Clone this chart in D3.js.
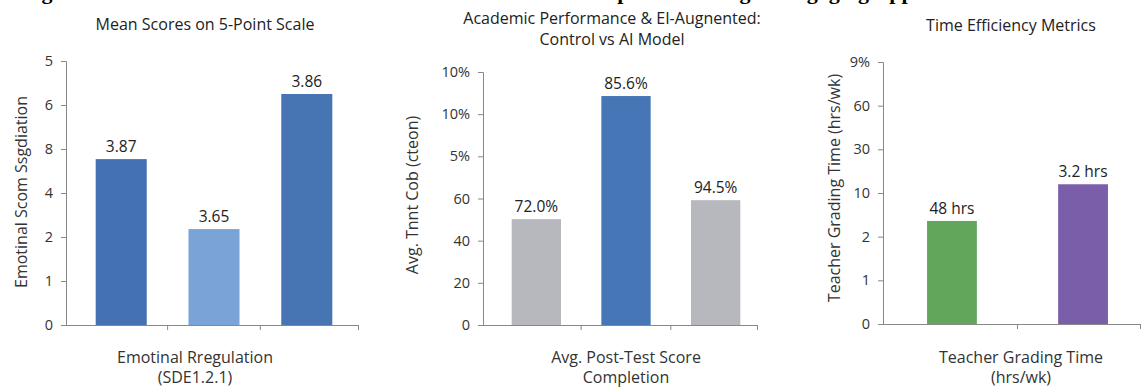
<!DOCTYPE html>
<html>
<head>
<meta charset="utf-8">
<script src="https://cdn.jsdelivr.net/npm/d3@7"></script>
<style>
  body { margin: 0; background: #fff; }
  text { font-family: "Open Sans", sans-serif; fill: #333; }
</style>
</head>
<body>
<div id="chart"></div>
<script>
// chart data
const figTitle = "Figure 4. Results for the AI Model Across Outcomes and the Impact of Pacing & Engaging Approach";

const p1Cats = ["A", "B", "C"];
const p1Ticks = ["0", "1", "2", "4", "8", "6", "5"];
const p1Heights = [3.77, 2.18, 5.25];
const p1Labels = ["3.87", "3.65", "3.86"];
const p1Colors = ["#4471b1", "#7aa4d7", "#4774b2"];

const p2Cats = ["Control", "AI", "EI"];
const p2Ticks = ["0", "20", "40", "60", "5%", "10%", "10%"];
const p2Heights = [2.51, 5.43, 2.96];
const p2Labels = ["72.0%", "85.6%", "94.5%"];
const p2Colors = ["#b6b8bd", "#4676b5", "#b6b8bd"];

const p3Cats = ["Before", "After"];
const p3Ticks = ["0", "1", "2", "10", "30", "60", "9%"];
const p3Heights = [2.36, 3.2];
const p3Labels = ["48 hrs", "3.2 hrs"];
const p3Colors = ["#62a65c", "#7a5ea9"];

const W = 1141, H = 387;
const svg = d3.select("#chart").append("svg")
  .attr("width", W).attr("height", H);

// figure title is cut off at the top, only descenders show
svg.append("text")
  .attr("x", 22).attr("y", -1)
  .style("font-family", "'Liberation Serif', serif")
  .style("font-weight", "bold")
  .style("font-size", "22px")
  .style("fill", "#000")
  .text(figTitle);

function drawPanel(p) {
  const g = svg.append("g");

  const x = d3.scaleBand()
    .domain(p.cats)
    .range([p.left, p.right])
    .paddingInner(p.padIn).paddingOuter(p.padOut);

  const y = d3.scaleLinear()
    .domain([0, p.ticks.length - 1])
    .range([p.bottom, p.top]);

  // y axis
  const yAxis = g.append("g")
    .attr("transform", `translate(${p.left},0)`)
    .call(d3.axisLeft(y)
      .tickValues(d3.range(p.ticks.length))
      .tickFormat(i => p.ticks[i])
      .tickSize(5).tickPadding(8));
  yAxis.select(".domain").attr("stroke", "#888");
  yAxis.selectAll(".tick line").attr("stroke", "#888");
  yAxis.selectAll(".tick text")
    .style("font-size", "14.5px").style("fill", "#333");

  // bars
  g.selectAll("rect.bar")
    .data(p.cats)
    .enter().append("rect")
      .attr("class", "bar")
      .attr("x", d => x(d))
      .attr("width", x.bandwidth())
      .attr("y", (d, i) => y(p.heights[i]))
      .attr("height", (d, i) => p.bottom - y(p.heights[i]))
      .attr("fill", (d, i) => p.colors[i]);

  // value labels
  g.selectAll("text.val")
    .data(p.cats)
    .enter().append("text")
      .attr("class", "val")
      .attr("x", d => x(d) + x.bandwidth() / 2)
      .attr("y", (d, i) => y(p.heights[i]) - 7)
      .attr("text-anchor", "middle")
      .style("font-size", "15.5px").style("fill", "#222")
      .text((d, i) => p.labels[i]);

  // x axis line, ticks between the bars
  g.append("line")
    .attr("x1", p.left).attr("x2", p.axisEnd)
    .attr("y1", p.bottom + 0.5).attr("y2", p.bottom + 0.5)
    .attr("stroke", "#888");
  const gap = x.step() - x.bandwidth();
  const edges = p.cats.map((d, i) =>
    i < p.cats.length - 1 ? x(d) + x.bandwidth() + gap / 2 : p.axisEnd - 0.5);
  g.selectAll("line.xt")
    .data(edges)
    .enter().append("line")
      .attr("class", "xt")
      .attr("x1", d => d).attr("x2", d => d)
      .attr("y1", p.bottom).attr("y2", p.bottom + 5)
      .attr("stroke", "#888");

  // titles
  p.title.forEach((t, i) => {
    g.append("text")
      .attr("x", p.titleX).attr("y", p.titleY + i * 21)
      .attr("text-anchor", "middle")
      .style("font-size", "16px").style("fill", "#222")
      .text(t);
  });

  p.xLabel.forEach((t, i) => {
    g.append("text")
      .attr("x", p.xLabelX).attr("y", 363 + i * 20)
      .attr("text-anchor", "middle")
      .style("font-size", "16px").style("fill", "#333")
      .text(t);
  });

  g.append("text")
    .attr("transform", `translate(${p.yLabelX},${p.yLabelY}) rotate(-90)`)
    .attr("text-anchor", "middle")
    .attr("dy", "0.35em")
    .style("font-size", "16px").style("fill", "#333")
    .text(p.yLabel);
}

drawPanel({
  cats: p1Cats, ticks: p1Ticks, heights: p1Heights, labels: p1Labels, colors: p1Colors,
  left: 66, right: 362, axisEnd: 359, top: 61, bottom: 325, padIn: 0.45, padOut: 0.32,
  title: ["Mean Scores on 5-Point Scale"], titleX: 205, titleY: 30,
  xLabel: ["Emotinal Rregulation", "(SDE1.2.1)"], xLabelX: 195,
  yLabel: "Emotinal Scom Ssgdiation", yLabelX: 21, yLabelY: 192
});

drawPanel({
  cats: p2Cats, ticks: p2Ticks, heights: p2Heights, labels: p2Labels, colors: p2Colors,
  left: 483, right: 769, axisEnd: 758, top: 72, bottom: 325, padIn: 0.45, padOut: 0.32,
  title: ["Academic Performance & EI-Augnented:", "Control vs AI Model"], titleX: 612, titleY: 24,
  xLabel: ["Avg. Post-Test Score", "Completion"], xLabelX: 626,
  yLabel: "Avg. Tnnt Cob (cteon)", yLabelX: 412, yLabelY: 195
});

drawPanel({
  cats: p3Cats, ticks: p3Ticks, heights: p3Heights, labels: p3Labels, colors: p3Colors,
  left: 883, right: 1152, axisEnd: 1141, top: 62, bottom: 324, padIn: 0.62, padOut: 0.336,
  title: ["Time Efficiency Metrics"], titleX: 1011, titleY: 31,
  xLabel: ["Teacher Grading Time", "(hrs/wk)"], xLabelX: 1021,
  yLabel: "Teacher Grading Time (hrs/wk)", yLabelX: 834, yLabelY: 188
});
</script>
</body>
</html>
